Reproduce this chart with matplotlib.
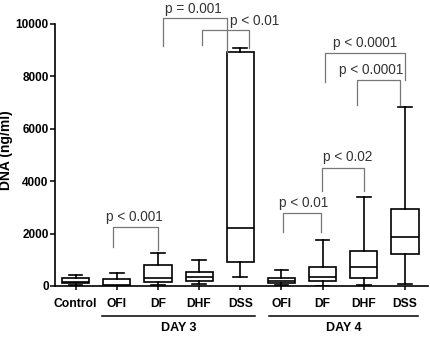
import matplotlib
matplotlib.use("Agg")
import matplotlib.pyplot as plt
import matplotlib.transforms as mtransforms

plt.rcParams['font.family'] = ['Liberation Sans', 'DejaVu Sans']

# groups and box statistics (ng/ml)
labels = ["Control", "OFI", "DF", "DHF", "DSS", "OFI", "DF", "DHF", "DSS"]
whislo = [20, 0, 20, 60, 355, 30, 10, 30, 60]
q1 = [103, 10, 165, 190, 930, 126, 191, 290, 1210]
med = [170, 30, 290, 360, 2225, 200, 332, 710, 1860]
q3 = [294, 256, 800, 550, 8920, 294, 714, 1350, 2925]
whishi = [420, 485, 1270, 990, 9070, 610, 1755, 3410, 6845]

yticks = [0, 2000, 4000, 6000, 8000, 10000]

# significance brackets: x left, x right, top, left leg end, right leg end
br_x1 = [0.91, 2.13, 3.06, 5.03, 5.98, 6.06, 6.83]
br_x2 = [2.00, 3.68, 4.21, 5.96, 7.01, 8.00, 7.88]
br_top = [2263, 10218, 9771, 2775, 4492, 8882, 7863]
br_yl = [1489, 9172, 9200, 2073, 3637, 7798, 6908]
br_yr = [1374, 8950, 9100, 2073, 3637, 7863, 6908]
br_text = ["p < 0.001", "p = 0.001", "p < 0.01", "p < 0.01", "p < 0.02",
           "p < 0.0001", "p < 0.0001"]
br_tx = [1.44, 2.85, 3.75, 5.53, 6.61, 7.03, 7.19]
br_ty = [2615, 10561, 10126, 3156, 4935, 9286, 8244]
br_ha = ["center", "center", "left", "center", "center", "center", "center"]

days = ["DAY 3", "DAY 4"]
day_x1 = [0.64, 4.70]
day_x2 = [4.36, 8.32]

fig = plt.figure(figsize=(4.3, 3.37), dpi=100)
ax = fig.add_axes([55 / 430, 1 - 286 / 337, 373 / 430, 262 / 337])

stats = []
for i in range(len(labels)):
    stats.append(dict(med=med[i], q1=q1[i], q3=q3[i],
                      whislo=whislo[i], whishi=whishi[i], fliers=[]))

line = dict(color="black", linewidth=1.2)
ax.bxp(stats, positions=range(len(labels)), widths=0.66, showfliers=False,
       patch_artist=True,
       boxprops=dict(facecolor="white", edgecolor="black", linewidth=1.2),
       medianprops=line, whiskerprops=line, capprops=line, capwidths=0.33)

ax.set_xlim(-0.5, 8.56)
ax.set_ylim(0, 10000)
ax.set_xticks(range(len(labels)))
ax.set_xticklabels(labels, fontweight="bold", fontsize=8.7)
ax.set_yticks(yticks)
ax.set_yticklabels([str(v) for v in yticks], fontweight="bold", fontsize=8.5)
ax.tick_params(axis="x", length=3, width=1.1, pad=5.5)
ax.tick_params(axis="y", length=3.5, width=1.1, pad=1)
for s in ["top", "right"]:
    ax.spines[s].set_visible(False)
for s in ["left", "bottom"]:
    ax.spines[s].set_linewidth(1.2)

ax.set_ylabel("DNA (ng/ml)", fontweight="bold", fontsize=10)
ax.yaxis.set_label_coords(-0.112, 0.52)

# brackets
for i in range(len(br_text)):
    ax.plot([br_x1[i], br_x1[i], br_x2[i], br_x2[i]],
            [br_yl[i], br_top[i], br_top[i], br_yr[i]],
            color="#777777", linewidth=0.9, clip_on=False)
    ax.text(br_tx[i], br_ty[i], br_text[i], ha=br_ha[i], va="center",
            fontsize=9.8, color="#333333", clip_on=False)

# day group lines
trans = mtransforms.blended_transform_factory(ax.transData, ax.transAxes)
for i in range(len(days)):
    ax.plot([day_x1[i], day_x2[i]], [-0.1145, -0.1145], color="black",
            linewidth=1.1, transform=trans, clip_on=False)
    ax.text((day_x1[i] + day_x2[i]) / 2, -0.162, days[i], transform=trans,
            ha="center", va="center", fontweight="bold", fontsize=9)

fig.savefig("out.png", dpi=100)
